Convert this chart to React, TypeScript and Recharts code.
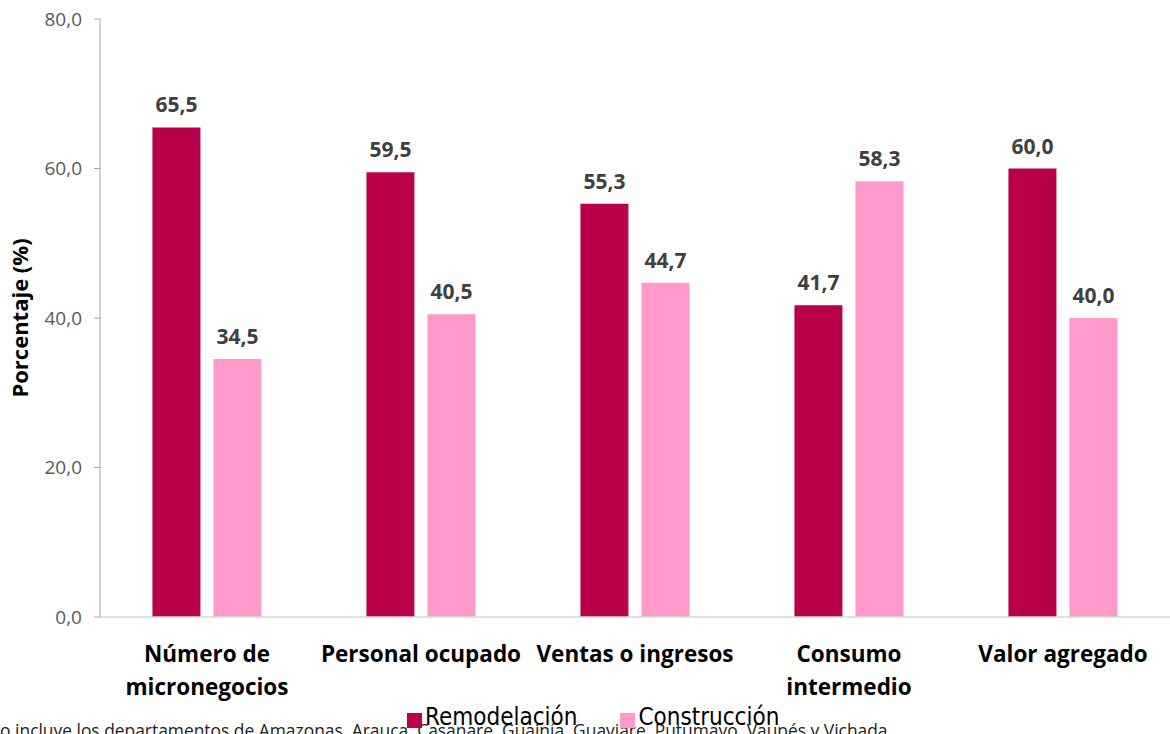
import { BarChart, Bar, XAxis, YAxis, LabelList } from 'recharts';

const categories = [
  'Número de|micronegocios',
  'Personal ocupado',
  'Ventas o ingresos',
  'Consumo|intermedio',
  'Valor agregado',
];
const remodelacion = [65.5, 59.5, 55.3, 41.7, 60.0];
const construccion = [34.5, 40.5, 44.7, 58.3, 40.0];
const yTicks = [0, 20, 40, 60, 80];

const series = [
  { key: 'remodelacion', name: 'Remodelación', color: '#B8004B' },
  { key: 'construccion', name: 'Construcción', color: '#FF9ACB' },
];

const data = categories.map((label, i) => ({
  label,
  remodelacion: remodelacion[i],
  construccion: construccion[i],
}));

const FONT = '"Open Sans", "Noto Sans", sans-serif';
const fmt = (v: number) => v.toFixed(1).replace('.', ',');

function CategoryTick({ x, y, payload }: any) {
  const lines = String(payload.value).split('|');
  return (
    <text
      x={x}
      y={y + 37}
      textAnchor="middle"
      fontFamily={FONT}
      fontWeight={700}
      fontSize={22.5}
      fill="#000"
    >
      {lines.map((l, i) => (
        <tspan key={i} x={x} dy={i === 0 ? 0 : 33}>
          {l}
        </tspan>
      ))}
    </text>
  );
}

export default function App() {
  return (
    <div
      style={{
        position: 'fixed',
        left: 0,
        top: 0,
        width: 1170,
        height: 734,
        background: '#fff',
        overflow: 'hidden',
        fontFamily: FONT,
      }}
    >
      <BarChart
        width={1170}
        height={734}
        data={data}
        margin={{ top: 19, right: 0, left: 0, bottom: 0 }}
        barCategoryGap="24.5%"
        barGap={13}
      >
        <XAxis
          dataKey="label"
          height={117}
          tick={<CategoryTick />}
          tickLine={false}
          axisLine={{ stroke: '#d9d9d9', strokeWidth: 1.5 }}
          interval={0}
        />
        <YAxis
          width={100}
          domain={[0, 80]}
          ticks={yTicks}
          tickFormatter={fmt}
          tick={{ fill: '#595959', fontSize: 19, fontFamily: FONT, dx: -10 }}
          tickLine={{ stroke: '#a6a6a6' }}
          tickSize={6}
          axisLine={{ stroke: '#a6a6a6' }}
          label={({ viewBox }: any) => (
            <text
              x={0}
              y={0}
              transform={`translate(28, ${viewBox.y + viewBox.height / 2}) rotate(-90)`}
              textAnchor="middle"
              fontFamily={FONT}
              fontWeight={700}
              fontSize={22}
              fill="#000"
            >
              Porcentaje (%)
            </text>
          )}
        />
        {series.map((s) => (
          <Bar
            key={s.key}
            dataKey={s.key}
            name={s.name}
            fill={s.color}
            isAnimationActive={false}
          >
            <LabelList
              dataKey={s.key}
              position="top"
              offset={15}
              formatter={(v: any) => fmt(Number(v))}
              style={{
                fill: '#404040',
                fontWeight: 700,
                fontSize: 21,
                fontFamily: FONT,
              }}
            />
          </Bar>
        ))}
      </BarChart>
      <div
        style={{
          position: 'absolute',
          left: -13,
          top: 718,
          fontSize: 17.4,
          color: '#222',
          whiteSpace: 'nowrap',
          lineHeight: '24px',
        }}
      >
        No incluye los departamentos de Amazonas, Arauca, Casanare, Guainía, Guaviare, Putumayo, Vaupés y Vichada
      </div>
      <div
        style={{
          position: 'absolute',
          left: 407,
          top: 703,
          display: 'flex',
          alignItems: 'center',
          gap: 43,
          fontFamily: '"Liberation Sans Narrow", "DejaVu Sans Condensed", sans-serif',
          fontSize: 24,
          color: '#000',
        }}
      >
        {series.map((s) => (
          <div key={s.key} style={{ display: 'flex', alignItems: 'center' }}>
            <span
              style={{
                display: 'inline-block',
                width: 15,
                height: 15,
                background: s.color,
                marginRight: 3,
                marginTop: 6,
              }}
            />
            <span>{s.name}</span>
          </div>
        ))}
      </div>
    </div>
  );
}
